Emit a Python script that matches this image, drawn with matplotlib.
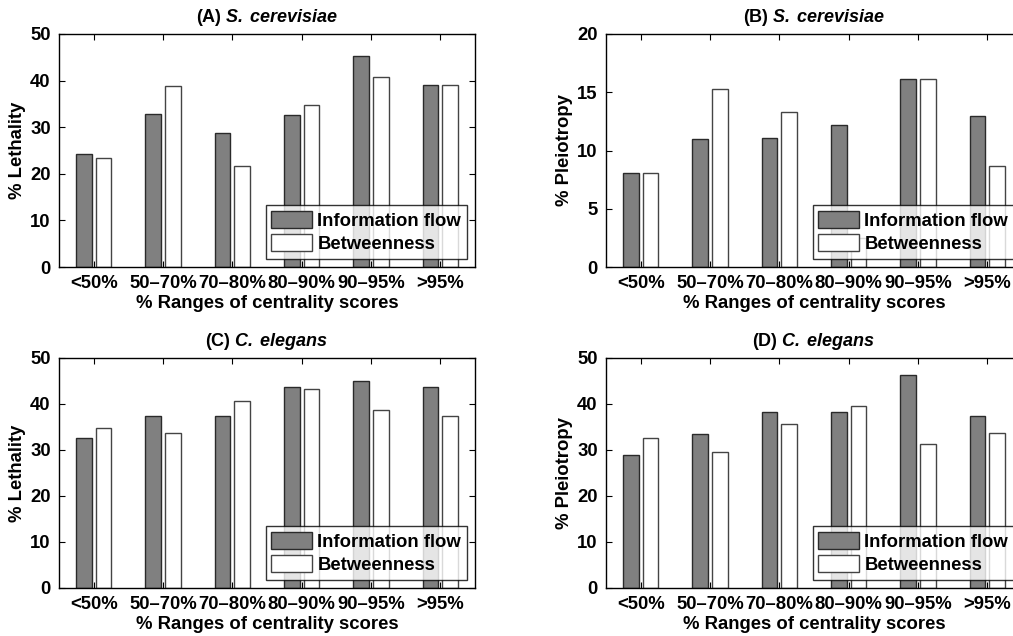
import numpy as np
import matplotlib
matplotlib.use('Agg')
import matplotlib.pyplot as plt

plt.rcParams['font.family'] = ['Liberation Sans', 'DejaVu Sans']
plt.rcParams['font.weight'] = 'bold'
plt.rcParams['mathtext.fontset'] = 'custom'
plt.rcParams['mathtext.rm'] = 'Liberation Sans:bold'
plt.rcParams['mathtext.bfit'] = 'Liberation Sans:italic:bold'

categories = ['<50%', '50\u201370%', '70\u201380%', '80\u201390%', '90\u201395%', '>95%']
series_names = ['Information flow', 'Betweenness']

# (A) S. cerevisiae lethality
lethal_sc_info = [24.3, 32.9, 28.8, 32.6, 45.3, 39.0]
lethal_sc_betw = [23.4, 38.8, 21.7, 34.7, 40.8, 39.0]
# (B) S. cerevisiae pleiotropy
pleio_sc_info = [8.1, 11.0, 11.1, 12.2, 16.1, 13.0]
pleio_sc_betw = [8.1, 15.3, 13.3, 2.5, 16.1, 8.7]
# (C) C. elegans lethality
lethal_ce_info = [32.6, 37.4, 37.5, 43.8, 45.1, 43.8]
lethal_ce_betw = [34.8, 33.7, 40.7, 43.2, 38.8, 37.5]
# (D) C. elegans pleiotropy
pleio_ce_info = [28.9, 33.4, 38.2, 38.2, 46.3, 37.5]
pleio_ce_betw = [32.6, 29.6, 35.7, 39.5, 31.3, 33.7]

panels = [
    ('(A)', 'S.\\,cerevisiae', '% Lethality', 50, lethal_sc_info, lethal_sc_betw),
    ('(B)', 'S.\\,cerevisiae', '% Pleiotropy', 20, pleio_sc_info, pleio_sc_betw),
    ('(C)', 'C.\\,elegans', '% Lethality', 50, lethal_ce_info, lethal_ce_betw),
    ('(D)', 'C.\\,elegans', '% Pleiotropy', 50, pleio_ce_info, pleio_ce_betw),
]

W, H = 1013, 636
fig = plt.figure(figsize=(W / 100, H / 100), dpi=100)
axw = 416 / W
rects = [
    [59 / W, 1 - 267 / H, axw, 233 / H],
    [606 / W, 1 - 267 / H, axw, 233 / H],
    [59 / W, 1 - 588 / H, axw, 230 / H],
    [606 / W, 1 - 588 / H, axw, 230 / H],
]

fs = 13.3
x = np.arange(1, len(categories) + 1)
bw = 0.228
off = 0.143

for rect, (tag, species, ylab, ymax, info, betw) in zip(rects, panels):
    ax = fig.add_axes(rect)
    ax.bar(x - off, info, bw, color='#808080', edgecolor='#2a2a2a', linewidth=1.0,
           label=series_names[0])
    ax.bar(x + off, betw, bw, color='white', edgecolor='#444444', linewidth=1.0,
           label=series_names[1])
    ax.set_xlim(0.5, 6.5)
    ax.set_ylim(0, ymax)
    if ymax == 20:
        ax.set_yticks(np.arange(0, 21, 5))
    else:
        ax.set_yticks(np.arange(0, 51, 10))
    ax.set_xticks(x)
    ax.set_xticklabels(categories)
    ax.tick_params(direction='in', top=True, right=True, length=4, width=0.8,
                   labelsize=fs, pad=6)
    for s in ax.spines.values():
        s.set_linewidth(1.0)
    for lab in ax.get_xticklabels() + ax.get_yticklabels():
        lab.set_fontweight('bold')
    ax.set_ylabel(ylab, fontsize=fs, fontweight='bold', labelpad=3)
    ax.set_xlabel('% Ranges of centrality scores', fontsize=fs, fontweight='bold',
                  labelpad=2)
    ax.set_title(tag + ' $\\mathbfit{' + species + '}$', fontsize=13,
                 fontweight='bold', pad=9)
    leg = ax.legend(loc='lower right', fontsize=fs, frameon=True, fancybox=False,
                    handlelength=2.2, handleheight=1.05, handletextpad=0.3,
                    borderaxespad=0.45, borderpad=0.3, labelspacing=0.25)
    leg.get_frame().set_edgecolor('black')
    leg.get_frame().set_linewidth(1.0)
    for t in leg.get_texts():
        t.set_fontweight('bold')

fig.savefig('out.png', dpi=100)
